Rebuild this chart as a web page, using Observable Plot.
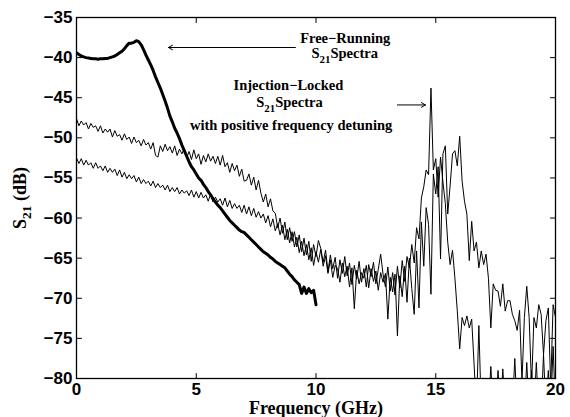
<!DOCTYPE html>
<html><head><meta charset="utf-8">
<script src="https://cdn.jsdelivr.net/npm/d3@7"></script>
<script src="https://cdn.jsdelivr.net/npm/@observablehq/plot@0.6"></script>
<style>
body{margin:0;background:#fff;}
</style></head><body><div id="chart"></div>
<script>
// Frequency grid step (GHz) for sampled spectra
const freqStep = 0.1;

// Free-running S21 spectrum, 0 to 10 GHz (dB)
const freeRunning = [
-39.4,-39.6,-39.8,-39.9,-40.0,-40.05,-40.1,-40.15,-40.15,-40.2,
-40.15,-40.15,-40.1,-40.1,-40.0,-39.9,-39.8,-39.6,-39.4,-39.2,
-38.9,-38.5,-38.2,-38.2,-38.1,-37.9,-38.0,-38.4,-39.0,-39.7,
-40.3,-40.9,-41.6,-42.4,-43.1,-43.8,-44.6,-45.4,-46.3,-47.3,
-48.0,-48.8,-49.4,-50.1,-50.9,-51.6,-52.3,-53.0,-53.6,-54.0,
-54.5,-55.0,-55.3,-55.8,-56.2,-56.7,-57.1,-57.6,-58.0,-58.4,
-58.7,-59.1,-59.5,-59.9,-60.3,-60.6,-60.9,-61.2,-61.5,-61.7,
-61.8,-62.1,-62.4,-62.7,-63.0,-63.3,-63.6,-63.9,-64.2,-64.4,
-64.6,-64.9,-65.1,-65.4,-65.6,-65.8,-66.0,-66.2,-66.6,-67.0,
-67.3,-67.7,-68.0,-68.3,-69.4,-68.6,-69.4,-68.8,-69.3,-69.0,
-70.8
];

// Injection-locked S21 spectrum (upper trace at low frequency), 0 to 20 GHz (dB)
const lockedA = [
-47.6,-48.5,-47.9,-48.4,-48.1,-48.9,-48.2,-48.7,-48.5,-49.2,
-48.5,-49.4,-48.9,-49.3,-48.9,-49.9,-49.1,-49.8,-49.6,-50.3,
-49.5,-50.2,-49.9,-50.7,-49.9,-50.6,-50.3,-51.0,-50.2,-50.9,
-50.6,-51.4,-50.6,-52.2,-52.4,-51.0,-51.7,-50.8,-51.6,-51.1,
-51.9,-51.0,-52.2,-51.4,-52.0,-51.3,-52.5,-51.7,-52.7,-51.5,
-52.6,-52.0,-53.3,-52.2,-53.0,-52.0,-52.9,-52.3,-53.2,-52.3,
-53.4,-52.2,-53.6,-53.1,-54.3,-53.2,-54.1,-53.4,-54.8,-53.9,
-55.4,-55.3,-54.5,-55.9,-54.9,-56.5,-55.3,-56.9,-58.0,-57.0,
-58.6,-57.6,-59.1,-59.4,-61.2,-60.0,-61.9,-60.5,-62.7,-61.2,
-62.9,-61.7,-63.6,-62.1,-64.2,-62.5,-64.6,-62.9,-65.4,-63.3,
-64.8,-62.8,-63.8,-65.5,-64.0,-66.7,-64.6,-66.3,-64.9,-67.5,
-65.2,-66.9,-64.8,-67.2,-65.6,-68.3,-65.9,-67.6,-65.4,-68.0,
-66.3,-68.6,-65.8,-67.3,-65.5,-68.2,-66.4,-64.5,-67.0,-68.6,
-66.1,-69.1,-66.8,-69.6,-66.0,-68.7,-65.3,-67.9,-64.8,-66.2,
-63.3,-65.6,-61.2,-62.6,-57.5,-56.1,-54.0,-54.6,-43.8,-54.0,
-52.6,-57.4,-52.4,-55.5,-58.2,-63.0,-65.8,-64.0,-67.5,-71.6,
-76.3,-72.4,-73.4,-72.2,-73.7,-72.6,-78.2,-84.0,-73.4,-84.0,
-84.0,-82.0,-84.0,-78.5,-84.0,-84.0,-79.0,-84.0,-78.8,-84.0,
-84.0,-81.0,-84.0,-77.5,-84.0,-84.0,-80.5,-84.0,-78.0,-84.0,
-79.0,-84.0,-78.0,-84.0,-84.0,-77.0,-84.0,-79.0,-84.0,-76.0,
-84.0
];

// Injection-locked S21 spectrum (lower trace at low frequency), 0 to 20 GHz (dB)
const lockedB = [
-52.5,-53.2,-52.6,-53.4,-52.8,-53.4,-53.1,-53.8,-53.1,-53.8,
-53.5,-54.1,-53.5,-54.3,-53.8,-54.3,-53.9,-54.7,-54.0,-54.9,
-54.3,-55.1,-54.6,-55.1,-54.7,-55.5,-54.9,-55.7,-55.2,-55.7,
-55.4,-56.0,-55.4,-56.2,-55.7,-56.2,-55.9,-56.5,-55.9,-56.7,
-56.2,-56.7,-56.2,-57.0,-56.5,-56.9,-56.6,-57.2,-56.5,-57.4,
-56.7,-57.5,-56.8,-57.5,-57.1,-57.9,-57.0,-58.0,-57.4,-58.0,
-57.6,-58.4,-57.5,-58.6,-57.8,-58.8,-58.2,-58.8,-58.4,-59.3,
-58.4,-59.5,-58.6,-59.7,-58.8,-59.9,-59.2,-60.0,-59.5,-60.6,
-59.7,-61.1,-60.1,-61.6,-60.7,-62.1,-60.9,-62.7,-61.4,-63.1,
-61.7,-63.6,-62.4,-64.3,-62.9,-64.7,-63.3,-65.2,-63.7,-65.9,
-64.2,-65.5,-63.9,-66.0,-64.7,-66.9,-65.2,-67.4,-65.9,-66.3,
-68.0,-65.6,-67.3,-66.0,-68.6,-66.2,-71.3,-66.5,-68.2,-66.8,
-67.5,-65.9,-68.7,-66.3,-67.9,-66.6,-69.0,-66.8,-68.0,-66.9,
-72.6,-67.4,-69.2,-67.0,-74.7,-67.2,-69.8,-66.0,-70.5,-65.0,
-68.8,-72.0,-64.1,-71.2,-60.5,-66.0,-58.7,-60.8,-69.5,-54.5,
-57.0,-53.6,-65.1,-52.0,-51.0,-59.5,-56.0,-52.0,-51.6,-53.5,
-49.8,-55.4,-57.9,-59.5,-65.3,-60.4,-64.1,-63.0,-66.2,-64.1,
-65.8,-64.5,-67.5,-73.7,-68.2,-69.0,-69.1,-71.0,-68.2,-71.6,
-70.3,-70.3,-72.0,-72.8,-74.0,-71.5,-80.5,-72.4,-68.5,-72.4,
-81.0,-72.4,-73.7,-70.8,-72.0,-77.0,-72.8,-71.2,-81.0,-70.8,
-72.4
];

const xTicks = [0, 5, 10, 15, 20];
const yTicks = [-80, -75, -70, -65, -60, -55, -50, -45, -40, -35];

// Annotation texts and their anchor points (GHz, dB)
const noteText = ["Free\u2212Running", "S21Spectra", "Injection\u2212Locked", "S21Spectra", "with positive frequency detuning"];
const noteX = [11.22, 11.2, 8.85, 8.89, 8.96];
const noteY = [-38.12, -40.1, -44.05, -46.1, -48.97];

// Arrows (from -> to), GHz and dB
const arrowX1 = [9.14, 13.4];
const arrowX2 = [3.84, 14.57];
const arrowY = [-38.74, -45.9];

const toRows = (vals) => vals.map((v, i) => ({f: i * freqStep, v}));
const rowsFree = toRows(freeRunning);
const rowsA = toRows(lockedA);
const rowsB = toRows(lockedB);
const notes = noteText.map((t, i) => ({t, x: noteX[i], y: noteY[i]}));
const arrows = arrowX1.map((x1, i) => ({x1, x2: arrowX2[i], y: arrowY[i]}));

const xMin = 0, xMax = 20, yMin = -80, yMax = -35;

const sans = "'Liberation Sans', Arial, Helvetica, sans-serif";
const serif = "'Liberation Serif', 'Times New Roman', Times, serif";

// a plain line segment shape for inward tick marks
const tickShape = {draw(ctx, l) { ctx.moveTo(0, 0); ctx.lineTo(0, -l); }};
const tickOpts = {length: 5, anchor: "start", shape: tickShape, stroke: "black", strokeWidth: 1};

const svg = Plot.plot({
  width: 570,
  height: 417,
  marginLeft: 76,
  marginRight: 15,
  marginTop: 17,
  marginBottom: 39,
  x: {domain: [xMin, xMax]},
  y: {domain: [yMin, yMax]},
  marks: [
    Plot.line(rowsA, {x: "f", y: "v", stroke: "black", strokeWidth: 1, clip: true}),
    Plot.line(rowsB, {x: "f", y: "v", stroke: "black", strokeWidth: 1, clip: true}),
    Plot.line(rowsFree, {x: "f", y: "v", stroke: "black", strokeWidth: 3, clip: true}),
    Plot.frame({stroke: "black", strokeWidth: 1.3}),
    // inward ticks on all four sides
    Plot.vector(xTicks, {x: d => d, y: () => yMin, rotate: 0, ...tickOpts}),
    Plot.vector(xTicks, {x: d => d, y: () => yMax, rotate: 180, ...tickOpts}),
    Plot.vector(yTicks, {x: () => xMin, y: d => d, rotate: 90, ...tickOpts}),
    Plot.vector(yTicks, {x: () => xMax, y: d => d, rotate: -90, ...tickOpts}),
    Plot.axisX({anchor: "bottom", ticks: xTicks, tickSize: 0, tickPadding: 4, label: null,
      fontSize: 17, fontWeight: "bold", fontFamily: sans, fill: "black"}),
    Plot.axisY({anchor: "left", ticks: yTicks, tickSize: 0, tickPadding: 4, label: null,
      tickFormat: d => d < 0 ? "\u2212" + Math.abs(d) : String(d),
      fontSize: 17, fontWeight: "bold", fontFamily: sans, fill: "black"}),
    Plot.arrow(arrows, {x1: "x1", y1: "y", x2: "x2", y2: "y", stroke: "black", strokeWidth: 1, headLength: 7}),
    Plot.text(notes, {x: "x", y: "y", text: "t", textAnchor: "middle", lineAnchor: "bottom",
      fontSize: 14.5, fontWeight: "bold", fontFamily: serif, fill: "black"}),
    Plot.text(["Frequency (GHz)"], {frameAnchor: "bottom", dy: 35, lineAnchor: "bottom", textAnchor: "middle",
      fontSize: 18, fontWeight: "bold", fontFamily: serif, fill: "black"}),
    Plot.text(["S21 (dB)"], {frameAnchor: "left", dx: -56, rotate: -90, textAnchor: "middle", lineAnchor: "middle",
      fontSize: 18, fontWeight: "bold", fontFamily: serif, fill: "black"})
  ]
});

// Render the "21" of S21 as a subscript
d3.select(svg).selectAll("text").each(function() {
  const t = this.textContent;
  const m = t.match(/^S21(.*)$/);
  if (!m) return;
  const sel = d3.select(this);
  sel.text(null);
  sel.append("tspan").text("S");
  sel.append("tspan").attr("dy", 5).attr("font-size", "0.75em").text("21");
  sel.append("tspan").attr("dy", -5).text(m[1]);
});

document.getElementById("chart").appendChild(svg);
</script>
</body></html>
